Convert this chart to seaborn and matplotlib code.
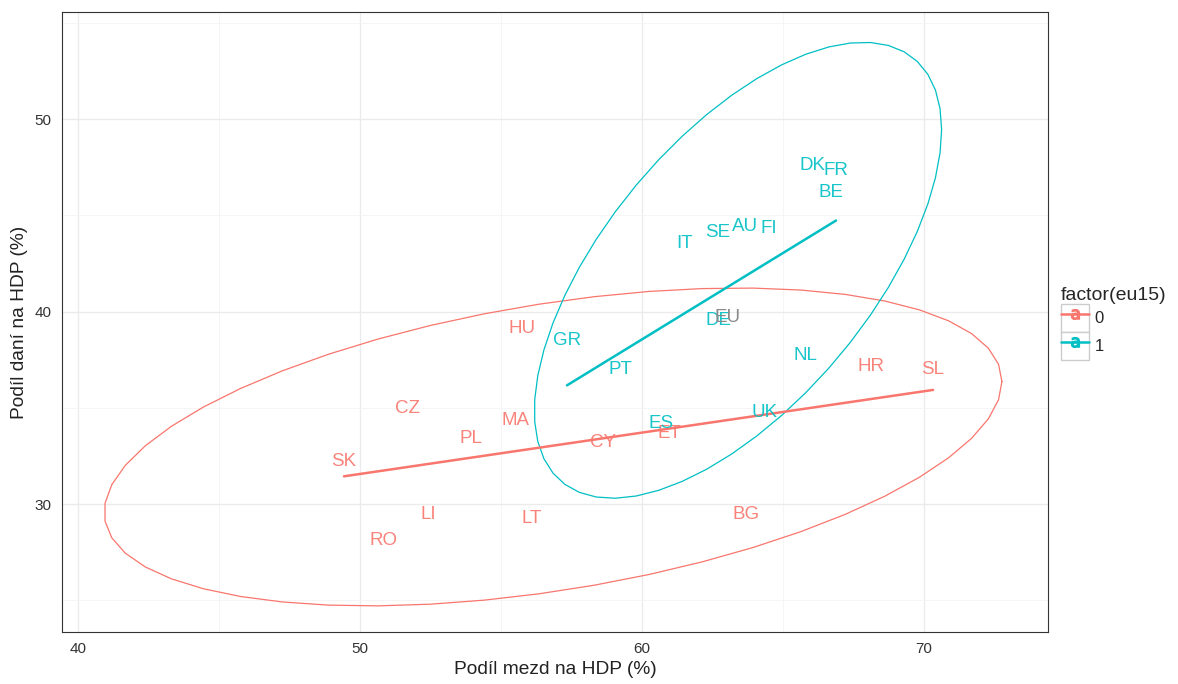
import numpy as np
import pandas as pd
import matplotlib
matplotlib.use("Agg")
import matplotlib.pyplot as plt
from matplotlib.lines import Line2D
from matplotlib.patches import Rectangle
from matplotlib.legend_handler import HandlerTuple
import seaborn as sns

sns.set_style("white")
plt.rcParams['font.family'] = ['Liberation Sans', 'DejaVu Sans']

# data
countries = ["SK", "CZ", "PL", "MA", "HU", "RO", "LI", "LT", "CY", "ET", "BG", "HR", "SL",
             "GR", "PT", "ES", "UK", "NL", "DE", "IT", "SE", "AU", "FI", "DK", "FR", "BE"]
wage_share = [49.43, 51.67, 53.94, 55.50, 55.74, 50.85, 52.41, 56.10, 58.62, 60.96, 63.69, 68.12, 70.32,
              57.34, 59.22, 60.67, 64.33, 65.78, 62.73, 61.52, 62.70, 63.65, 64.50, 66.03, 66.88, 66.70]
tax_share = [32.23, 34.94, 33.38, 34.36, 39.14, 28.08, 29.43, 29.27, 33.17, 33.64, 29.43, 37.12, 37.01,
             38.47, 37.01, 34.16, 34.73, 37.74, 39.51, 43.51, 44.08, 44.39, 44.29, 47.56, 47.30, 46.16]
eu15 = [0] * 13 + [1] * 13

# EU average (no group)
eu_avg_x, eu_avg_y = 63.05, 39.71

df = pd.DataFrame({"country": countries, "wage": wage_share, "tax": tax_share, "eu15": eu15})
palette = {0: "#F8766D", 1: "#00BFC4"}


def cov_trob(x, nu=5, maxit=25, tol=0.01):
    # same as MASS::cov.trob, used by ggplot stat_ellipse
    n, p = x.shape
    wt = np.ones(n)
    loc = x.mean(axis=0)
    w = np.sqrt(wt)
    for _ in range(maxit):
        w0 = w
        X = x - loc
        _, d, vt = np.linalg.svd(np.sqrt(w / w.sum())[:, None] * X, full_matrices=False)
        wX = X @ vt.T @ np.diag(1 / d)
        Q = (wX ** 2).sum(axis=1)
        w = wt * (nu + p) / (nu + Q)
        loc = (w[:, None] * x).sum(axis=0) / w.sum()
        if np.all(np.abs(w - w0) < tol):
            break
    X = x - loc
    cov = (np.sqrt(w)[:, None] * X).T @ (np.sqrt(w)[:, None] * X) / wt.sum()
    return loc, cov


def ellipse(x, level=0.95, segments=51):
    dfd = len(x) - 1
    qf = dfd / 2 * ((1 - level) ** (-2 / dfd) - 1)
    radius = np.sqrt(2 * qf)
    center, shape = cov_trob(x)
    chol = np.linalg.cholesky(shape).T
    ang = np.linspace(0, 2 * np.pi, segments + 1)
    circ = np.column_stack([np.cos(ang), np.sin(ang)])
    return center + radius * circ @ chol


fig = plt.figure(figsize=(11.78, 6.84), dpi=100)
ax = fig.add_axes([0.0526, 0.076, 0.8371, 0.9065])

for g in [0, 1]:
    sub = df[df["eu15"] == g]
    col = palette[g]
    e = ellipse(sub[["wage", "tax"]].to_numpy())
    ax.plot(e[:, 0], e[:, 1], color=col, lw=0.9, zorder=2)
    sns.regplot(data=sub, x="wage", y="tax", ax=ax, ci=None, scatter=False,
                color=col, line_kws={"lw": 1.8, "zorder": 3})
    for _, r in sub.iterrows():
        ax.text(r["wage"], r["tax"], r["country"], color=col, fontsize=13.5,
                ha="center", va="center", zorder=4, alpha=0.9)

ax.text(eu_avg_x, eu_avg_y, "EU", color="#8a8a8a", fontsize=13.5, ha="center", va="center", zorder=4)

ax.set_xlim(39.43, 74.4)
ax.set_ylim(23.35, 55.56)
ax.set_xticks([40, 50, 60, 70])
ax.set_yticks([30, 40, 50])
ax.set_xticks([45, 55, 65], minor=True)
ax.set_yticks([25, 35, 45, 55], minor=True)
ax.grid(True, which="major", color="#ebebeb", lw=1.0)
ax.grid(True, which="minor", color="#f4f4f4", lw=0.6)
ax.set_axisbelow(True)
for s in ax.spines.values():
    s.set_color("#333333")
    s.set_linewidth(0.8)
ax.tick_params(which="major", length=4, color="#333333", labelsize=11, labelcolor="#333333")
ax.tick_params(which="minor", length=0)
ax.set_xlabel("Podíl mezd na HDP (%)", fontsize=13.8, labelpad=3, color="#222222")
ax.set_ylabel("Podíl daní na HDP (%)", fontsize=13.8, labelpad=5, color="#222222")

handles = []
for g in [0, 1]:
    box = Rectangle((0, 0), 1, 1, facecolor="white", edgecolor="#cccccc", lw=1.0)
    line = Line2D([], [], color=palette[g], lw=1.8, marker="$\\mathrm{a}$", markersize=7)
    handles.append((box, line))
leg = fig.legend(handles, ["0", "1"], title="factor(eu15)", loc="upper left",
                 bbox_to_anchor=(0.895, 0.59), frameon=False, fontsize=12,
                 title_fontsize=14, handlelength=1.7, handleheight=2.2, handletextpad=0.3,
                 labelspacing=0.0, borderaxespad=0.0, alignment="left",
                 handler_map={tuple: HandlerTuple(ndivide=1, pad=0)})

fig.savefig("out.png", dpi=100)
